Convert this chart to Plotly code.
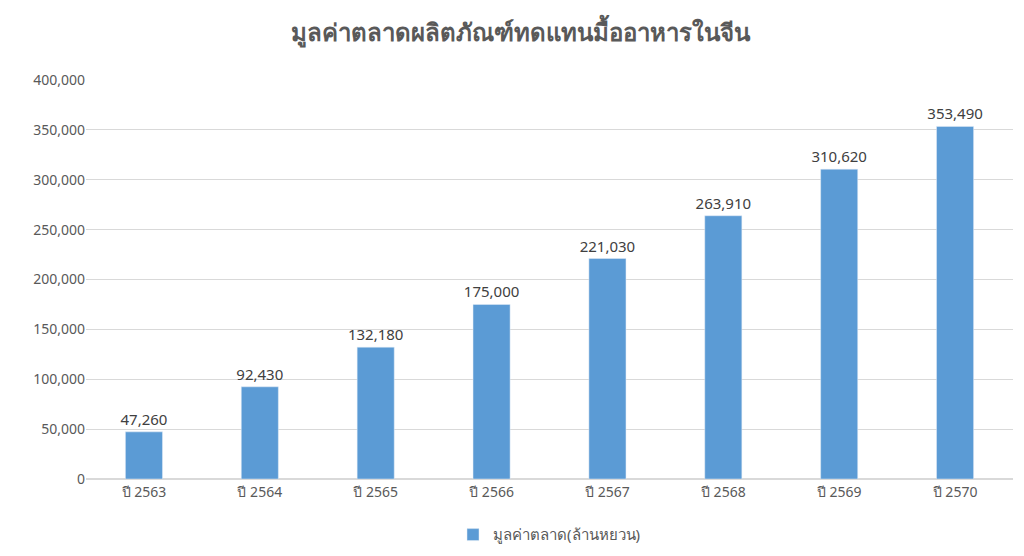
import plotly.graph_objects as go

categories = ["ปี 2563", "ปี 2564", "ปี 2565", "ปี 2566", "ปี 2567", "ปี 2568", "ปี 2569", "ปี 2570"]
values = [47260, 92430, 132180, 175000, 221030, 263910, 310620, 353490]
series_name = "มูลค่าตลาด(ล้านหยวน)"
title = "มูลค่าตลาดผลิตภัณฑ์ทดแทนมื้ออาหารในจีน"

fig = go.Figure(go.Bar(
    x=categories, y=values, name=series_name,
    marker_color="#5B9BD5",
    text=[f"{v:,}" for v in values], textposition="outside", constraintext="none",
    textfont=dict(size=15, color="#404040"), cliponaxis=False,
))
fig.update_layout(
    width=1024, height=556,
    paper_bgcolor="white", plot_bgcolor="white",
    font=dict(family="Noto Sans, DejaVu Sans, sans-serif", color="#595959", size=14),
    title=dict(text=f"<b>{title}</b>", x=0.5, xanchor="center", y=0.955, yanchor="middle",
               font=dict(size=24, color="#595959")),
    margin=dict(l=78, r=19, t=72, b=85),
    bargap=0.68,
    showlegend=True,
    legend=dict(orientation="h", x=0.5, xanchor="center", y=-0.14, yanchor="middle",
                font=dict(size=15, color="#595959")),
    yaxis=dict(range=[0, 400000], dtick=50000, tickformat=",", gridcolor="#D9D9D9",
               zeroline=True, zerolinecolor="#D9D9D9", tickfont=dict(size=14)),
    xaxis=dict(tickfont=dict(size=14), showline=True, linecolor="#D9D9D9"),
)
fig.write_html("out.html")
